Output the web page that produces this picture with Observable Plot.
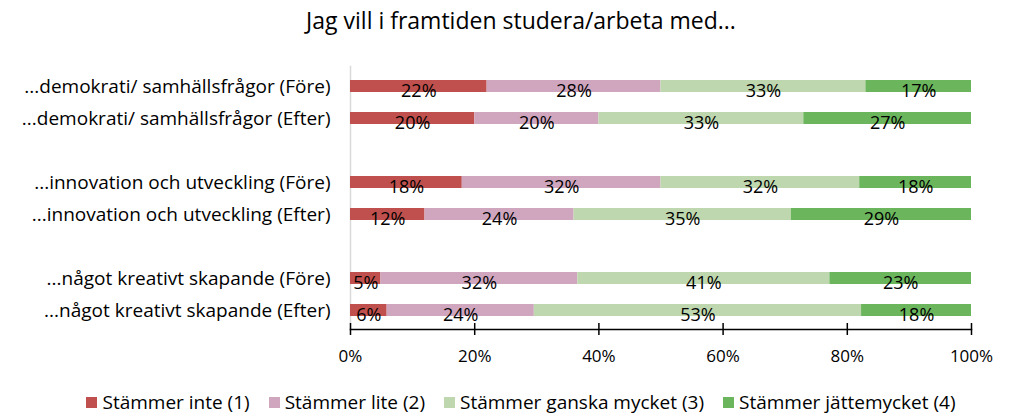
<!DOCTYPE html>
<html>
<head>
<meta charset="utf-8">
<script src="https://cdn.jsdelivr.net/npm/d3@7"></script>
<script src="https://cdn.jsdelivr.net/npm/@observablehq/plot@0.6"></script>
<style>
  body { margin: 0; background: #fff; font-family: "Open Sans", sans-serif; color: #000; }
  #title { height: 45px; line-height: 40px; font-size: 23px; text-align: center; padding-left: 30px; box-sizing: border-box; width: 1012px; }
  #legend { display: flex; justify-content: center; gap: 19px; font-size: 19px; margin-top: 4px; padding-left: 30px; white-space: nowrap; }
  #legend span.item { display: inline-flex; align-items: center; gap: 5px; }
  #legend span.sw { display: inline-block; width: 11px; height: 11px; }
</style>
</head>
<body>
<div id="title">Jag vill i framtiden studera/arbeta med...</div>
<div id="chart"></div>
<div id="legend"></div>
<script>
const categories = [
  "...demokrati/ samhällsfrågor (Före)",
  "...demokrati/ samhällsfrågor (Efter)",
  "...innovation och utveckling (Före)",
  "...innovation och utveckling (Efter)",
  "...något kreativt skapande (Före)",
  "...något kreativt skapande (Efter)"
];
const seriesNames = ["Stämmer inte (1)", "Stämmer lite (2)", "Stämmer ganska mycket (3)", "Stämmer jättemycket (4)"];
const s1 = [22, 20, 18, 12, 4.9, 5.9];
const s2 = [28, 20, 32, 24, 31.7, 23.7];
const s3 = [33, 33, 32, 35, 40.6, 52.7];
const s4 = [17, 27, 18, 29, 22.8, 17.7];
const labels1 = ["22%", "20%", "18%", "12%", "5%", "6%"];
const labels2 = ["28%", "20%", "32%", "24%", "32%", "24%"];
const labels3 = ["33%", "33%", "32%", "35%", "41%", "53%"];
const labels4 = ["17%", "27%", "18%", "29%", "23%", "18%"];
const colors = ["#C0504D", "#D0A6BF", "#BFD7AE", "#6BB55C"];
const xTicks = [0, 20, 40, 60, 80, 100];

const seriesVals = [s1, s2, s3, s4];
const seriesLabels = [labels1, labels2, labels3, labels4];
const data = [];
categories.forEach((c, i) => {
  seriesNames.forEach((s, j) => {
    data.push({cat: c, series: s, value: seriesVals[j][i], label: seriesLabels[j][i]});
  });
});

const yDomain = [categories[0], categories[1], " ", categories[2], categories[3], "  ", categories[4], categories[5]];

const plot = Plot.plot({
  width: 1012,
  height: 340,
  marginLeft: 350,
  marginRight: 41,
  marginTop: 21,
  marginBottom: 56,
  style: {fontFamily: "Open Sans, sans-serif", fontSize: "16px", color: "#000", background: "#fff"},
  x: {domain: [0, 100], label: null},
  y: {domain: yDomain, paddingInner: 0.636, paddingOuter: 0.318, label: null},
  color: {domain: seriesNames, range: colors},
  marks: [
    Plot.frame({anchor: "left", stroke: "#d9d9d9", strokeWidth: 1.5}),
    Plot.barX(data, Plot.stackX({x: "value", y: "cat", fill: "series", z: "series", order: seriesNames})),
    Plot.text(data, Plot.stackX({x: "value", y: "cat", z: "series", text: "label", order: seriesNames, dy: 5, fontSize: 18, fill: "#000"})),
    Plot.frame({anchor: "bottom", stroke: "#000", strokeWidth: 1.5}),
    Plot.axisX({ticks: xTicks, tickSize: 12, dy: -6, tickFormat: () => "", strokeWidth: 1.5, stroke: "#000", label: null}),
    Plot.axisX({ticks: xTicks, tickSize: 0, tickPadding: 20, tickFormat: d => d + "%", fontSize: 17, label: null}),
    Plot.axisY({tickSize: 0, tickPadding: 20, fontSize: 19, label: null, tickFormat: d => d.trim() === "" ? "" : d})
  ]
});
document.getElementById("chart").appendChild(plot);

const legend = document.getElementById("legend");
seriesNames.forEach((s, j) => {
  const item = document.createElement("span");
  item.className = "item";
  const sw = document.createElement("span");
  sw.className = "sw";
  sw.style.background = colors[j];
  item.appendChild(sw);
  item.appendChild(document.createTextNode(s));
  legend.appendChild(item);
});
</script>
</body>
</html>
